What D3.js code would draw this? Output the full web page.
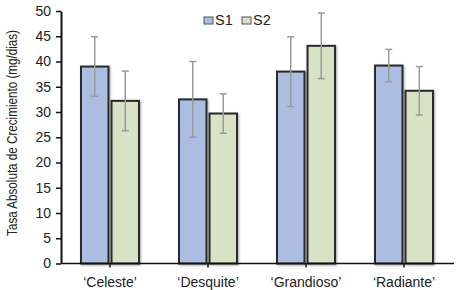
<!DOCTYPE html>
<html>
<head>
<meta charset="utf-8">
<script src="https://cdn.jsdelivr.net/npm/d3@7"></script>
<style>
  body { margin: 0; background: #fff; }
  svg { display: block; font-family: "Liberation Sans", Arial, sans-serif; }
  .axis path, .axis line { stroke: #111; }
  .axis text { fill: #222; font-size: 14px; }
</style>
</head>
<body>
<svg id="chart"></svg>
<script>
// chart data
const categories = ["\u2018Celeste\u2019", "\u2018Desquite\u2019", "\u2018Grandioso\u2019", "\u2018Radiante\u2019"];
const seriesNames = ["S1", "S2"];
const s1Values = [39.0, 32.5, 38.0, 39.2];
const s2Values = [32.2, 29.7, 43.1, 34.2];
const s1Errors = [5.9, 7.5, 6.9, 3.2];
const s2Errors = [5.9, 3.9, 6.5, 4.8];
const yTicks = [0, 5, 10, 15, 20, 25, 30, 35, 40, 45, 50];
const yLabel = "Tasa Absoluta de Crecimiento (mg/dias)";

const colors = {S1: "#abbde0", S2: "#d8e3c5"};

const width = 459, height = 290;
const margin = {top: 11, right: 5, bottom: 26.5, left: 61};
const innerW = width - margin.left - margin.right;
const innerH = height - margin.top - margin.bottom;

const svg = d3.select("#chart")
    .attr("width", width)
    .attr("height", height);

const chart = svg.append("g")
    .attr("transform", `translate(${margin.left},${margin.top})`);

// scales
const xScale = d3.scaleBand()
    .domain(categories)
    .range([0, 392]);

const xInner = d3.scaleBand()
    .domain(seriesNames)
    .range([xScale.bandwidth() / 2 - 29, xScale.bandwidth() / 2 + 29])
    .paddingInner(0.1);

const yScale = d3.scaleLinear()
    .domain([0, 50])
    .range([innerH, 0]);

// rows for the bars
const rows = [];
categories.forEach((c, i) => {
    rows.push({cat: c, series: "S1", value: s1Values[i], err: s1Errors[i]});
    rows.push({cat: c, series: "S2", value: s2Values[i], err: s2Errors[i]});
});

// soft shadow like the office chart
const defs = svg.append("defs");
const filter = defs.append("filter").attr("id", "shadow")
    .attr("x", "-20%").attr("y", "-20%").attr("width", "140%").attr("height", "140%");
filter.append("feGaussianBlur").attr("in", "SourceAlpha").attr("stdDeviation", 1.2);
filter.append("feOffset").attr("dx", 0.5).attr("dy", 0.5).attr("result", "b");
filter.append("feComponentTransfer").append("feFuncA").attr("type", "linear").attr("slope", 0.35);
const merge = filter.append("feMerge");
merge.append("feMergeNode");
merge.append("feMergeNode").attr("in", "SourceGraphic");

// bars
chart.selectAll(".bar")
    .data(rows)
    .enter()
    .append("rect")
    .attr("class", "bar")
    .attr("x", d => xScale(d.cat) + xInner(d.series))
    .attr("y", d => yScale(d.value))
    .attr("width", xInner.bandwidth())
    .attr("height", d => innerH - yScale(d.value))
    .attr("fill", d => colors[d.series])
    .attr("stroke", "#2a2a2a")
    .attr("stroke-width", 2)
    .attr("filter", "url(#shadow)");

// error bars
const errG = chart.selectAll(".err")
    .data(rows)
    .enter()
    .append("g")
    .attr("class", "err")
    .attr("stroke", "#9a9a9a")
    .attr("stroke-width", 1.5);

const cx = d => xScale(d.cat) + xInner(d.series) + xInner.bandwidth() / 2;

errG.append("line")
    .attr("x1", cx).attr("x2", cx)
    .attr("y1", d => yScale(d.value + d.err))
    .attr("y2", d => yScale(d.value - d.err));
errG.append("line")
    .attr("x1", d => cx(d) - 3.5).attr("x2", d => cx(d) + 3.5)
    .attr("y1", d => yScale(d.value + d.err))
    .attr("y2", d => yScale(d.value + d.err));
errG.append("line")
    .attr("x1", d => cx(d) - 3.5).attr("x2", d => cx(d) + 3.5)
    .attr("y1", d => yScale(d.value - d.err))
    .attr("y2", d => yScale(d.value - d.err));

// axes
const yAxis = d3.axisLeft(yScale)
    .tickValues(yTicks)
    .tickSize(5)
    .tickSizeOuter(0)
    .tickPadding(5);

chart.append("g")
    .attr("class", "axis y-axis")
    .call(yAxis)
    .call(g => g.select(".domain").attr("stroke-width", 2))
    .call(g => g.selectAll(".tick line").attr("stroke-width", 1.5));

const xAxis = d3.axisBottom(xScale)
    .tickSize(4)
    .tickSizeOuter(0)
    .tickPadding(10);

chart.append("g")
    .attr("class", "axis x-axis")
    .attr("transform", `translate(0,${innerH})`)
    .call(xAxis)
    .call(g => g.select(".domain").attr("d", `M0,0H${innerW}`).attr("stroke-width", 1.5))
    .call(g => g.selectAll(".tick line").attr("stroke-width", 1.5));

// y axis title, squeezed along its length like the original
const yTitle = chart.append("text")
    .attr("text-anchor", "middle")
    .style("font-size", "15px")
    .attr("fill", "#222")
    .text(yLabel);
const squeeze = 206 / yTitle.node().getComputedTextLength();
yTitle.attr("transform", `translate(-44,122) rotate(-90) scale(${squeeze},1)`);

// legend
const legend = svg.append("g")
    .attr("transform", "translate(204,16)");

const legendItems = legend.selectAll(".legend-item")
    .data(seriesNames)
    .enter()
    .append("g")
    .attr("class", "legend-item")
    .attr("transform", (d, i) => `translate(${i * 38},0)`);

legendItems.append("rect")
    .attr("width", 9)
    .attr("height", 7)
    .attr("y", 1)
    .attr("fill", d => colors[d])
    .attr("stroke", "#555")
    .attr("stroke-width", 1);

legendItems.append("text")
    .attr("x", 11)
    .attr("y", 9)
    .style("font-size", "14.5px")
    .attr("fill", "#222")
    .text(d => d);
</script>
</body>
</html>
